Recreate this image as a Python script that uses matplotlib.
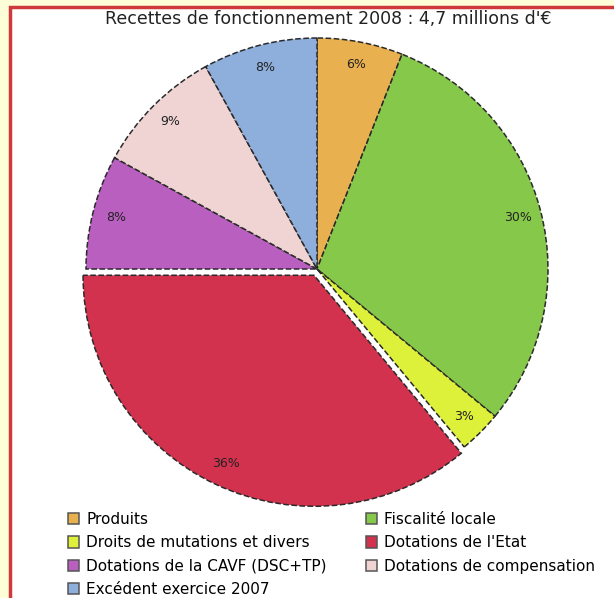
import matplotlib.pyplot as plt
from matplotlib.patches import Rectangle
import numpy as np

title = "Recettes de fonctionnement 2008 : 4,7 millions d'€"
labels = ["Produits", "Fiscalité locale", "Droits de mutations et divers",
          "Dotations de l'Etat", "Dotations de la CAVF (DSC+TP)",
          "Dotations de compensation", "Excédent exercice 2007"]
values = [6, 30, 3, 36, 8, 9, 8]
colors = ["#E9B04F", "#86C84A", "#DDF03A", "#D2324E", "#B95FC0", "#F0D3D3", "#8EAEDC"]
explode = [0, 0, 0, 0.03, 0, 0, 0]

fig = plt.figure(figsize=(6.14, 5.98), dpi=100)
fig.patch.set_facecolor("#FDFDD8")
# white panel with a red border (runs off the right and bottom edges)
fig.patches.append(Rectangle((10 / 614, -0.05), 1.0, (598 - 7) / 598 + 0.05,
                             transform=fig.transFigure, facecolor="white",
                             edgecolor="#D0393C", linewidth=2.5, zorder=-5))

ax = fig.add_axes([86 / 614, (598 - 500) / 598, 462 / 614, 462 / 598])
ax.patch.set_visible(False)
wedges, texts = ax.pie(values, colors=colors, startangle=90, counterclock=False,
                       explode=explode,
                       wedgeprops=dict(edgecolor="#2a2a2a", linewidth=1.1, linestyle="--"))
for w in wedges:
    w.set_clip_on(False)

# percentage labels
start = 90.0
for v, d in zip(values, explode):
    theta = np.deg2rad(start - v * 3.6 / 2)
    r = 0.9 + d
    ax.text(r * np.cos(theta), r * np.sin(theta), f"{v}%", ha="center", va="center",
            fontsize=9, color="#222222")
    start -= v * 3.6
ax.set_xlim(-1, 1)
ax.set_ylim(-1, 1)
ax.set_aspect("equal")
ax.axis("off")

fig.text(0.535, 1 - 19 / 598, title, ha="center", va="center", fontsize=12.5, color="#222222")

# legend laid out row by row in two columns (one legend per column)
legopts = dict(loc="upper left", frameon=False, fontsize=11, handlelength=0.75,
               handleheight=0.75, handletextpad=0.45, labelspacing=0.55, borderpad=0.0,
               borderaxespad=0.0)
cols = [([0, 2, 4, 6], 68), ([1, 3, 5], 366)]
for idx, x0 in cols:
    leg = fig.legend([wedges[i] for i in idx], [labels[i] for i in idx],
                     bbox_to_anchor=(x0 / 614, 1 - 512 / 598), **legopts)
    for h in leg.legend_handles:
        h.set_linestyle("-")
        h.set_edgecolor("#555555")

fig.savefig("out.png", dpi=100, facecolor=fig.get_facecolor())
